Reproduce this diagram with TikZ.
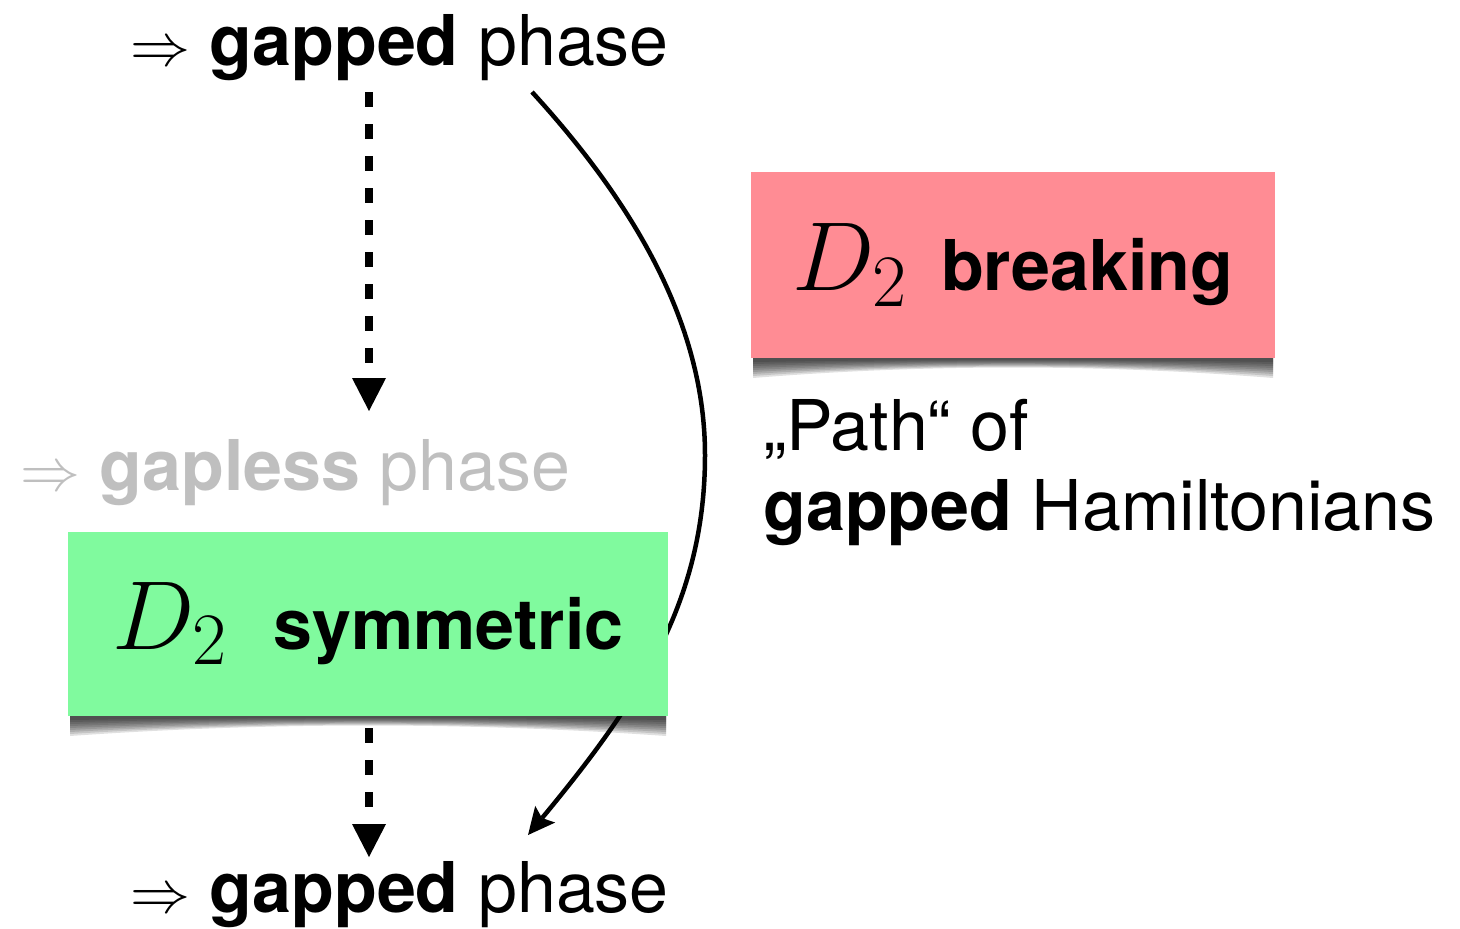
\RequirePackage{fix-cm}
\documentclass[tikz,border=0pt]{standalone}
\usepackage{fontspec}
\setsansfont{TeX Gyre Heros}
\usetikzlibrary{arrows.meta}
\definecolor{symgreen}{RGB}{128,250,158}
\definecolor{brkred}{RGB}{255,140,148}
\definecolor{ghost}{RGB}{191,191,191}
\newcommand{\boxshadow}[4]{%
  \foreach \k in {4,6,...,20}{%
    \fill[black,opacity=0.12] ({#1+2},{#4-2}) -- ({#1+2},{#4+\k})
      .. controls ({#1+(#3-#1)/3},{#4+0.3*\k}) and ({#3-(#3-#1)/3},{#4+0.3*\k}) .. ({#3-2},{#4+\k})
      -- ({#3-2},{#4-2}) -- cycle;
  }%
}
\newcommand{\Dtwo}{{\fontsize{98}{100}\selectfont$D_{\hbox{\normalfont\rmfamily\fontsize{74}{74}\selectfont 2}}$}}
\newcommand{\arr}{{\fontsize{60}{60}\selectfont$\Rightarrow$}}
\begin{document}
\begin{tikzpicture}[x=1pt,y=-1pt,
  every node/.style={inner sep=0pt,outer sep=0pt},
  big/.style={font=\sffamily\fontsize{70}{74}\selectfont},
  boxtxt/.style={font=\sffamily\bfseries\fontsize{70}{72}\selectfont},
  dasharrow/.style={line width=8pt,dash pattern=on 15pt off 17pt,
     -{Triangle[width=34pt,length=33pt,line width=0pt]}},
  curvearrow/.style={line width=4.5pt,-{Stealth[width=26pt,length=27pt,inset=5pt,line width=0pt]}}]
\useasboundingbox (0,0) rectangle (1460,929);

% texts
\node[big,anchor=base west] (top) at (130,65) {\arr\ \textbf{gapped} phase};
\node[big,anchor=base west,text=ghost] (gapless) at (20,490) {\arr\ \textbf{gapless} phase};
\node[big,anchor=base west] (bottom) at (130,912) {\arr\ \textbf{gapped} phase};
\node[big,anchor=base west] (path1) at (763,450) {„Path“ of};
\node[big,anchor=base west] (path2) at (763,530) {\textbf{gapped} Hamiltonians};

% curved path
\coordinate (cs) at (532,92);
\coordinate (ce) at (528,835);
\draw[curvearrow] (cs) .. controls (640,210) and (705,330) .. (705,455)
   .. controls (705,600) and (640,700) .. (ce);

% shadows
\boxshadow{68}{532}{668}{716}
\boxshadow{751}{172}{1275}{358}

% boxes
\node[fill=symgreen,minimum width=600pt,minimum height=184pt,boxtxt] (sym) at (368,624)
  {\Dtwo\hspace{47pt}symmetric\hspace{4pt}};
\node[fill=brkred,minimum width=524pt,minimum height=186pt,boxtxt] (brk) at (1013,265)
  {\Dtwo\hspace{34pt}breaking};

% dashed arrows
\coordinate (a1s) at (369,92);
\coordinate (a1e) at (369,411);
\coordinate (a2s) at (369,728);
\coordinate (a2e) at (369,857);
\draw[dasharrow] (a1s) -- (a1e);
\draw[dasharrow] (a2s) -- (a2e);
\end{tikzpicture}
\end{document}
